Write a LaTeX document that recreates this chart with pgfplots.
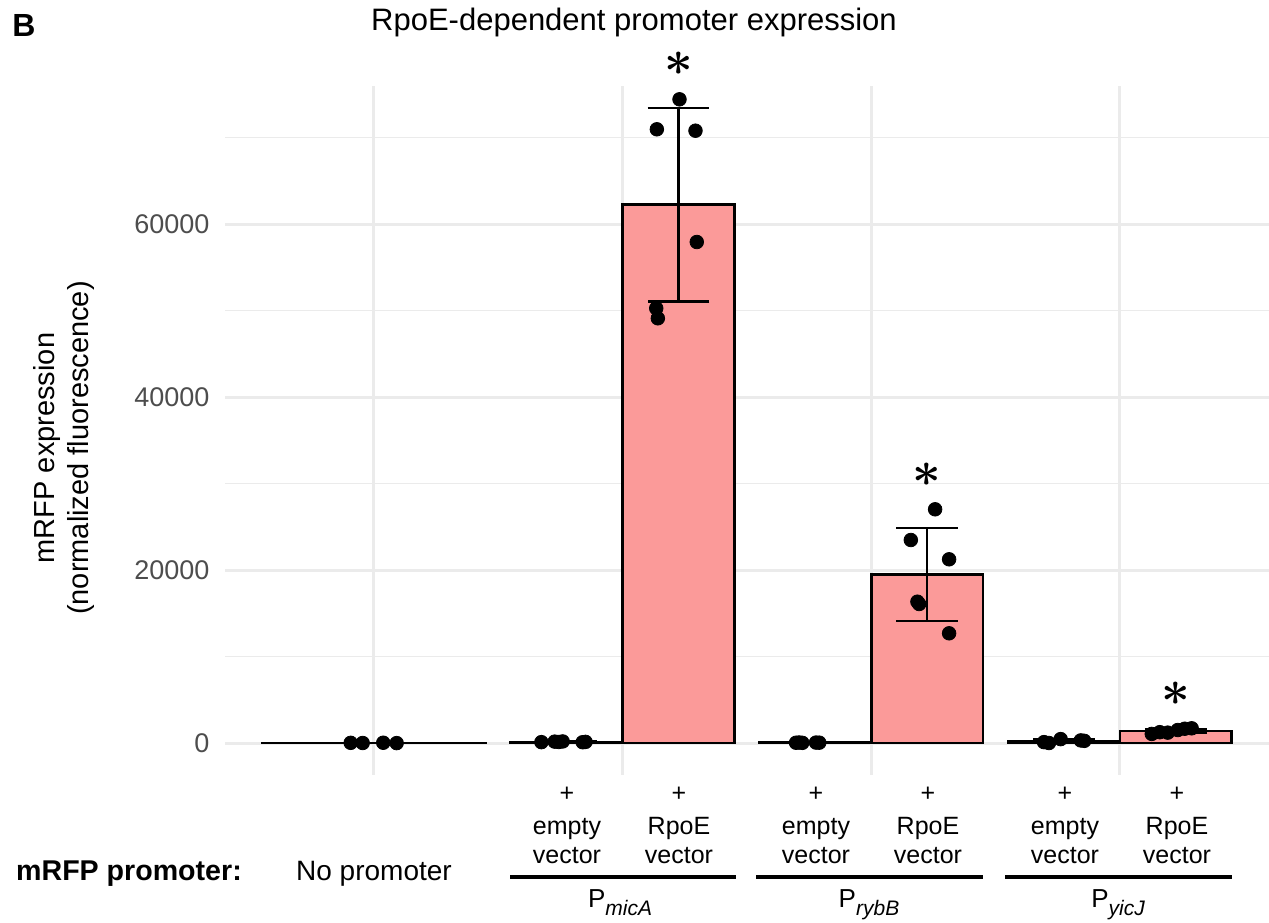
\documentclass[border=0pt]{standalone}
\usepackage{pgfplots}
\pgfplotsset{compat=1.18}
\usepackage{pgfplotstable}
\usepackage{fontspec}
\setmainfont{Liberation Sans}
\definecolor{barpink}{HTML}{FB9A99}
\definecolor{gridgray}{HTML}{EBEBEB}
\definecolor{ticklab}{HTML}{4D4D4D}

\pgfplotstableread{
x y e
1 10 15
}\barnone
\pgfplotstableread{
x y e
1.775 130 60
2.225 62237 11200
2.775 40 30
3.225 19468 5350
3.775 220 170
4.225 1392 260
}\bardodge
\pgfplotstableread{
x y
0.9064 20
0.9546 0
1.0373 30
1.0912 -10
1.6735 100
1.7269 160
1.7430 120
1.7590 180
1.8394 90
1.8510 130
2.1378 70948
2.2289 74416
2.2932 70786
2.2984 57919
2.1353 50254
2.1418 49098
2.6976 30
2.7100 60
2.7230 20
2.7780 50
2.7910 40
3.1594 23468
3.2570 27017
3.3133 21237
3.1859 16335
3.1928 16069
3.3133 12682
3.695 100
3.715 0
3.762 450
3.843 300
3.857 250
4.1285 1050
4.1606 1250
4.1928 1200
4.2329 1500
4.2610 1650
4.2890 1700
}\points

\newcommand{\sig}{{\fontsize{23}{23}\selectfont\boldmath$\ast$}}

\begin{document}
\begin{tikzpicture}
\begin{axis}[
  at={(112.4pt,73.5pt)}, anchor=south west,
  scale only axis, width=522.1pt, height=344.5pt,
  xmin=0.4, xmax=4.6, ymin=-3699, ymax=75954,
  clip=false,
  axis line style={draw=none},
  tick style={draw=none},
  major tick length=0pt,
  xtick={1,2,3,4}, xticklabels={},
  ytick={0,20000,40000,60000},
  minor ytick={10000,30000,50000,70000},
  xmajorgrids, ymajorgrids, yminorgrids,
  major grid style={draw=gridgray, line width=1.5pt},
  minor grid style={draw=gridgray, line width=0.8pt},
  scaled y ticks=false,
  yticklabel style={/pgf/number format/fixed, /pgf/number format/1000 sep={}, font=\fontsize{13.5}{16}\selectfont, text=ticklab, inner sep=0pt, xshift=-7.5pt},
  /pgf/number format/assume math mode=true,
]
\addplot[ybar, bar width=0.9, bar shift=0pt, fill=barpink, draw=black, line width=1.3pt,
  error bars/.cd, y dir=both, y explicit,
  error bar style={line width=1.15pt, black},
  error mark options={rotate=90, mark size=31.2pt, line width=1.15pt, black}]
  table[x=x, y=y, y error=e] {\barnone};
\addplot[ybar, bar width=0.45, bar shift=0pt, fill=barpink, draw=black, line width=1.3pt,
  error bars/.cd, y dir=both, y explicit,
  error bar style={line width=1.15pt, black},
  error mark options={rotate=90, mark size=15.4pt, line width=1.15pt, black}]
  table[x=x, y=y, y error=e] {\bardodge};
\addplot[only marks, mark=*, mark size=3.4pt, black] table[x=x, y=y] {\points};
\node[inner sep=0pt] at (axis cs:2.225,78500) {\sig};
\node[inner sep=0pt] at (axis cs:3.225,31000) {\sig};
\node[inner sep=0pt] at (axis cs:4.225,5750) {\sig};
\end{axis}

% panel label and title
\node[anchor=base west, inner sep=0pt, font=\fontsize{16}{18}\selectfont\bfseries] at (6pt,442.5pt) {B};
\node[anchor=base, inner sep=0pt, font=\fontsize{15.5}{18}\selectfont] at (317pt,445.5pt) {RpoE-dependent promoter expression};
% y label
\node[rotate=90, align=center, inner sep=0pt, font=\fontsize{14.5}{17}\selectfont] at (32pt,237pt) {mRFP expression\\(normalized fluorescence)};

% x labels
\foreach \xx/\lab in {283.5/empty, 339.5/RpoE, 408/empty, 464/RpoE, 532.5/empty, 588.5/RpoE} {
  \node[anchor=center, inner sep=0pt, font=\fontsize{12.5}{14}\selectfont] at (\xx pt,64pt) {+};
  \node[anchor=base, inner sep=0pt, font=\fontsize{12.5}{14}\selectfont] at (\xx pt,44pt) {\lab};
  \node[anchor=base, inner sep=0pt, font=\fontsize{12.5}{14}\selectfont] at (\xx pt,29.5pt) {vector};
}
\node[anchor=base, inner sep=0pt, font=\fontsize{14}{16}\selectfont] at (187pt,21pt) {No promoter};
\node[anchor=base, inner sep=0pt, font=\fontsize{14.3}{16}\selectfont\bfseries] at (64.5pt,21pt) {mRFP promoter:};
\draw[line width=2pt] (255pt,22.5pt) -- (368pt,22.5pt);
\draw[line width=2pt] (378pt,22.5pt) -- (491.5pt,22.5pt);
\draw[line width=2pt] (502.5pt,22.5pt) -- (616pt,22.5pt);
\node[anchor=base, inner sep=0pt, font=\fontsize{13}{15}\selectfont] at (310pt,7.5pt) {P\raisebox{-4pt}{\fontsize{10.5}{12}\selectfont\itshape micA}};
\node[anchor=base, inner sep=0pt, font=\fontsize{13}{15}\selectfont] at (434.5pt,7.5pt) {P\raisebox{-4pt}{\fontsize{10.5}{12}\selectfont\itshape rybB}};
\node[anchor=base, inner sep=0pt, font=\fontsize{13}{15}\selectfont] at (559pt,7.5pt) {P\raisebox{-4pt}{\fontsize{10.5}{12}\selectfont\itshape yicJ}};

\pgfresetboundingbox
\path (0,0) rectangle (634.5pt,461pt);
\end{tikzpicture}
\end{document}
